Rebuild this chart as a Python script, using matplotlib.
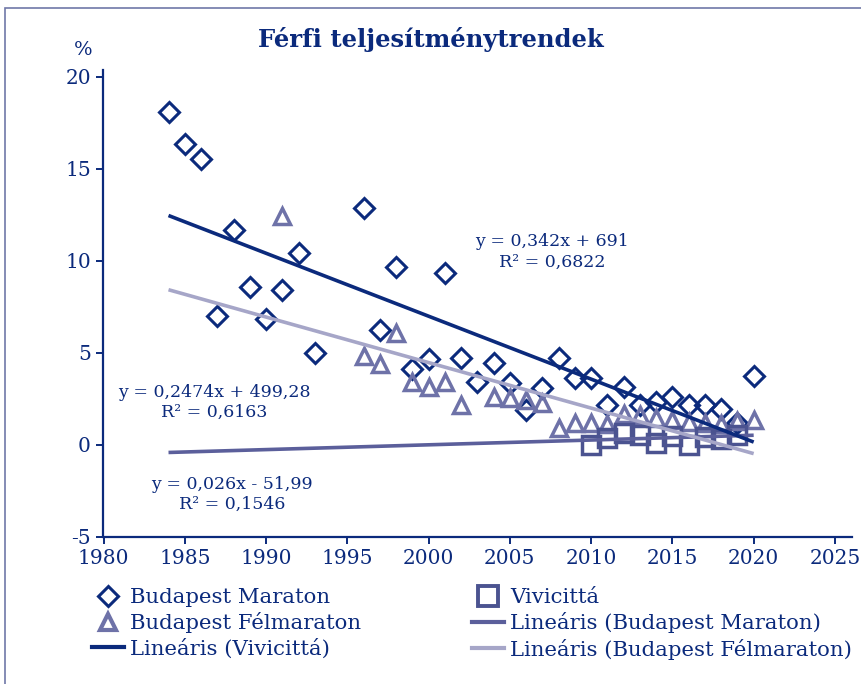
import matplotlib.pyplot as plt
import numpy as np
from matplotlib.lines import Line2D
from matplotlib.patches import Rectangle

plt.rcParams['axes.unicode_minus'] = False

# Data
years_maraton = [1984, 1985, 1986, 1987, 1988, 1989, 1990, 1991, 1992, 1993,
                 1996, 1997, 1998, 1999, 2000, 2001, 2002, 2003, 2004, 2005,
                 2006, 2007, 2008, 2009, 2010, 2011, 2012, 2013, 2014, 2015,
                 2016, 2017, 2018, 2019, 2020]
maraton = [18.1, 16.35, 15.55, 7.0, 11.7, 8.6, 6.85, 8.4, 10.45, 5.0,
           12.9, 6.25, 9.7, 4.15, 4.7, 9.35, 4.75, 3.4, 4.45, 3.35,
           1.9, 3.1, 4.75, 3.65, 3.65, 2.2, 3.15, 2.15, 2.35, 2.6,
           2.2, 2.15, 1.95, 1.2, 3.75]

years_felmaraton = [1991, 1996, 1997, 1998, 1999, 2000, 2001, 2002, 2004, 2005,
                    2006, 2007, 2008, 2009, 2010, 2011, 2012, 2013, 2014, 2015,
                    2016, 2017, 2018, 2019, 2020]
felmaraton = [12.45, 4.85, 4.4, 6.1, 3.45, 3.15, 3.45, 2.15, 2.6, 2.55,
              2.45, 2.3, 0.9, 1.2, 1.2, 1.15, 1.7, 1.65, 1.45, 1.35,
              1.25, 1.2, 1.15, 1.3, 1.35]

years_vivicitta = [2010, 2011, 2012, 2013, 2014, 2015, 2016, 2017, 2018, 2019]
vivicitta = [0.0, 0.4, 0.65, 0.55, 0.1, 0.5, 0.0, 0.45, 0.3, 0.55]

# trend lines as printed on the chart (slope, intercept)
trend_range = [1984, 2020]
trend_dark = (-0.342, 691.0)
trend_light = (-0.2474, 499.28)
trend_mid = (0.026, -51.99)

labels = ["Budapest Maraton", "Budapest Félmaraton", "Lineáris (Vivicittá)",
          "Vivicittá", "Lineáris (Budapest Maraton)", "Lineáris (Budapest Félmaraton)"]

# Colours
NAVY = '#0b2a7c'
TRI = '#6e72a8'
SQ = '#4b5390'
MID = '#5b5f9b'
LIGHT = '#a6a6c8'

W, H = 862, 684
fig = plt.figure(figsize=(W / 100, H / 100), dpi=100)
ax = fig.add_axes([103.5 / W, 1 - 537 / H, (852 - 103.5) / W, (537 - 70) / H])

ax.plot(years_maraton, maraton, linestyle='none', marker='D', markersize=10.5,
        markerfacecolor='none', markeredgecolor=NAVY, markeredgewidth=2.2)
ax.plot(years_felmaraton, felmaraton, linestyle='none', marker='^', markersize=12,
        markerfacecolor='none', markeredgecolor=TRI, markeredgewidth=2.5)
ax.plot(years_vivicitta, vivicitta, linestyle='none', marker='s', markersize=13,
        markerfacecolor='none', markeredgecolor=SQ, markeredgewidth=2.5)

xs = np.array(trend_range, dtype=float)
ax.plot(xs, trend_mid[0] * xs + trend_mid[1], color=MID, lw=2.6, solid_capstyle='butt')
ax.plot(xs, trend_light[0] * xs + trend_light[1], color=LIGHT, lw=2.6, solid_capstyle='butt')
ax.plot(xs, trend_dark[0] * xs + trend_dark[1], color=NAVY, lw=2.6, solid_capstyle='butt')

ax.set_xlim(1980, 2026.05)
ax.set_ylim(-5, 20.38)
ax.set_xticks(range(1980, 2026, 5))
ax.set_yticks(range(-5, 21, 5))

for s in ['top', 'right']:
    ax.spines[s].set_visible(False)
for s in ['left', 'bottom']:
    ax.spines[s].set_color(NAVY)
    ax.spines[s].set_linewidth(1.6)
ax.tick_params(axis='both', colors=NAVY, direction='out', length=5, width=1.4,
               labelsize=14.5, pad=4)
for lab in ax.get_xticklabels() + ax.get_yticklabels():
    lab.set_fontfamily('DejaVu Serif')
    lab.set_color(NAVY)

# equation labels
eq_kw = dict(ha='center', va='center', fontsize=12.5, family='DejaVu Serif',
             color=NAVY, linespacing=1.25, multialignment='center')
ax.text(2007.6, 10.5, "y = 0,342x + 691\nR² = 0,6822", **eq_kw)
ax.text(1986.8, 2.3, "y = 0,2474x + 499,28\nR² = 0,6163", **eq_kw)
ax.text(1987.9, -2.7, "y = 0,026x - 51,99\nR² = 0,1546", **eq_kw)

# title and unit
fig.text(431 / W, 1 - 40 / H, "Férfi teljesítménytrendek", ha='center', va='center',
         fontsize=17.5, fontweight='bold', family='DejaVu Serif', color=NAVY)
fig.text(83 / W, 1 - 50 / H, "%", ha='center', va='center', fontsize=14,
         family='DejaVu Serif', color=NAVY)

# legend
handles = [
    Line2D([], [], linestyle='none', marker='D', markersize=10.5, markerfacecolor='none',
           markeredgecolor=NAVY, markeredgewidth=2.2),
    Line2D([], [], linestyle='none', marker='^', markersize=12, markerfacecolor='none',
           markeredgecolor=TRI, markeredgewidth=3),
    Line2D([], [], color=NAVY, lw=3),
    Line2D([], [], linestyle='none', marker='s', markersize=15, markerfacecolor='none',
           markeredgecolor=SQ, markeredgewidth=2.8),
    Line2D([], [], color=MID, lw=3),
    Line2D([], [], color=LIGHT, lw=3),
]
fig.legend(handles, labels, ncol=2, loc='upper left',
           bbox_to_anchor=(92 / W, 1 - 588 / H), frameon=False, borderpad=0,
           borderaxespad=0, handlelength=1.5, handletextpad=0.3, labelspacing=0.25,
           columnspacing=5.2, prop={'family': 'DejaVu Serif', 'size': 15.3},
           labelcolor=NAVY)

# outer frame (runs off the right/bottom edge like the source crop)
fig.patches.append(Rectangle((5 / W, -0.5), 2, 1 - 8 / H + 0.5, transform=fig.transFigure,
                             fill=False, edgecolor='#7078a8', lw=1.2))

fig.savefig('out.png', dpi=100)
